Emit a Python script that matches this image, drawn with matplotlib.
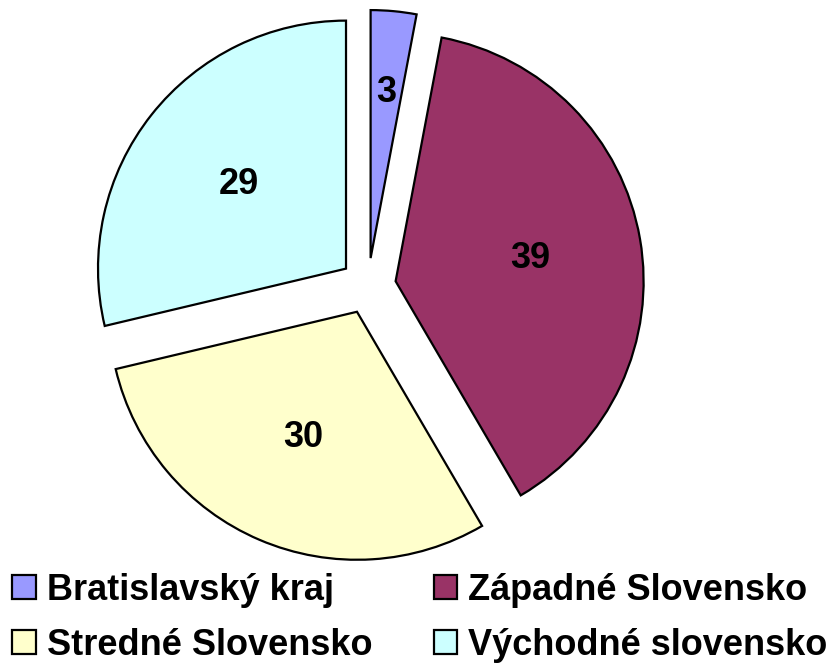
import matplotlib.pyplot as plt

# Datos del gráfico
kraje = ["Bratislavský kraj", "Západné Slovensko", "Stredné Slovensko", "Východné slovensko"]
hodnoty = [3, 39, 30, 29]
farby = ["#9999FF", "#993366", "#FFFFCC", "#CCFFFF"]

plt.rcParams["font.family"] = ["Liberation Sans", "DejaVu Sans"]

fig = plt.figure(figsize=(8.37, 6.64), dpi=100)
# eje cuadrado en píxeles: centro aprox. (368, 286), radio 248 px
ax = fig.add_axes([(368 - 248) / 837, (664 - 286 - 248) / 664, 496 / 837, 496 / 664])

wedges, texts, autotexts = ax.pie(
    hodnoty,
    colors=farby,
    startangle=90,
    counterclock=False,
    explode=[0.113] * len(hodnoty),
    autopct=lambda p: "%d" % round(p * sum(hodnoty) / 100),
    pctdistance=0.55,
    wedgeprops=dict(edgecolor="black", linewidth=1.6),
    textprops=dict(fontsize=26, fontweight="bold", color="black"),
)

# la etiqueta del sector pequeño va más afuera
for w, t, v in zip(wedges, autotexts, hodnoty):
    if v < 5:
        cx, cy = w.center
        x, y = t.get_position()
        t.set_position((cx + (x - cx) * 1.22, cy + (y - cy) * 1.22))

ax.set_xlim(-1, 1)
ax.set_ylim(-1, 1)

# leyenda por filas: matplotlib llena por columnas, así que se reordena
orden = [0, 2, 1, 3]
leg = fig.legend(
    [wedges[i] for i in orden], [kraje[i] for i in orden],
    loc="lower left", bbox_to_anchor=(0.004, -0.012),
    ncol=2, frameon=False,
    prop=dict(size=26, weight="bold"),
    handlelength=0.65, handleheight=0.65, handletextpad=0.3,
    columnspacing=1.7, labelspacing=0.55, borderpad=0.15, borderaxespad=0.1,
)
for h in leg.legend_handles:
    h.set_linewidth(1.6)

plt.savefig("out.png", dpi=100)
